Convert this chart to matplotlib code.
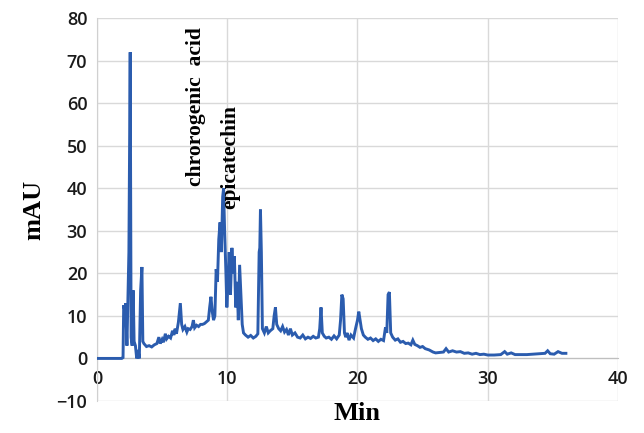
import matplotlib
matplotlib.use("Agg")
import matplotlib.pyplot as plt

time_min = [0, 1.9, 2.0, 2.05, 2.15, 2.2, 2.3, 2.35, 2.45, 2.55, 2.62, 2.7, 2.78, 2.85, 2.95,
            3.05, 3.15, 3.25, 3.35, 3.45, 3.52, 3.6, 3.8, 4.0, 4.2, 4.4, 4.6, 4.75, 4.85, 5.0,
            5.1, 5.25, 5.35, 5.5, 5.65, 5.8, 5.9, 6.0, 6.1, 6.25, 6.4, 6.5, 6.6, 6.75, 6.9,
            7.0, 7.15, 7.3, 7.4, 7.5, 7.65, 7.8, 7.95, 8.1, 8.25, 8.4, 8.55, 8.65, 8.75, 8.85,
            8.95, 9.05, 9.15, 9.25, 9.35, 9.45, 9.55, 9.65, 9.72, 9.8, 9.9, 9.97, 10.05, 10.15,
            10.25, 10.36, 10.45, 10.55, 10.65, 10.75, 10.85, 10.95, 11.05, 11.15, 11.25, 11.4,
            11.6, 11.8, 12.0, 12.2, 12.35, 12.45, 12.5, 12.55, 12.62, 12.7, 12.85, 13.0, 13.15,
            13.3, 13.5, 13.6, 13.7, 13.8, 13.95, 14.1, 14.25, 14.4, 14.55, 14.7, 14.85, 15.0,
            15.2, 15.4, 15.6, 15.8, 16.0, 16.2, 16.4, 16.6, 16.8, 17.0, 17.1, 17.2, 17.3, 17.45,
            17.6, 17.8, 18.0, 18.2, 18.4, 18.6, 18.7, 18.8, 18.9, 19.0, 19.1, 19.2, 19.35, 19.5,
            19.7, 19.85, 20.0, 20.1, 20.2, 20.3, 20.45, 20.6, 20.8, 21.0, 21.2, 21.4, 21.6, 21.8,
            22.0, 22.15, 22.25, 22.35, 22.45, 22.55, 22.7, 22.9, 23.1, 23.3, 23.5, 23.7, 23.9,
            24.1, 24.25, 24.4, 24.6, 24.8, 25.0, 25.2, 25.5, 25.8, 26.0, 26.3, 26.6, 26.8, 27.0,
            27.3, 27.6, 27.9, 28.2, 28.5, 28.8, 29.1, 29.4, 29.7, 30.0, 30.5, 31.0, 31.3, 31.5,
            31.8, 32.1, 32.5, 33.0, 33.5, 34.0, 34.4, 34.6, 34.8, 35.1, 35.4, 35.7, 36.0]
mau = [0, 0, 0.2, 12.5, 11, 13, 3, 10, 25, 72, 5, 3, 16, 4, 3,
       0, 2, 0, 16, 21.5, 4, 3.5, 2.8, 3, 2.7, 3.2, 3.5, 5, 3.5, 4.5,
       3.8, 5.8, 4.6, 5.2, 4.8, 6.5, 5.5, 7, 5.8, 8.5, 13, 8, 6.8, 7.5, 6.2,
       7, 6.8, 7.5, 9, 7.2, 7.8, 7.5, 8, 8, 8.2, 8.6, 9, 12, 14.5, 11,
       9, 10, 21, 18, 28, 32, 25, 38, 40, 30, 20, 12, 17, 25,
       15, 26, 20, 24, 12, 18, 9, 22, 15, 8, 6, 5.5,
       5, 5.4, 4.8, 5.2, 5.8, 25, 26, 35, 25, 7, 6, 7.5, 6,
       6.5, 7, 10, 12, 8, 7, 6.5, 7.5, 6.2, 6.8, 5.5, 7, 5.5,
       6, 5, 4.8, 5.5, 4.6, 5, 4.7, 5.2, 4.8, 5, 7, 12, 6, 5.2,
       4.8, 5, 4.5, 5.3, 4.6, 5.5, 9, 15, 14, 6, 5, 6, 4.3, 5.5,
       4.8, 7, 9, 11, 9, 7, 5.5, 5, 4.5, 4.8, 4.2, 4.6, 4, 4.5,
       4.2, 7.3, 6, 15, 15.6, 6, 5, 4.3, 4.6, 3.8, 4, 3.5, 3.6,
       3.2, 4.3, 3.3, 3, 2.6, 2.8, 2.3, 2, 1.5, 1.3, 1.4, 1.5, 2.3, 1.5,
       1.8, 1.5, 1.6, 1.2, 1.3, 1.0, 1.2, 0.9, 1.0, 0.8, 0.8, 0.9, 1.6, 1.0,
       1.3, 0.9, 0.9, 0.9, 1.0, 1.1, 1.2, 1.8, 1.1, 1.0, 1.6, 1.2, 1.2]

x_ticks = [0, 10, 20, 30, 40]
y_ticks = [-10, 0, 10, 20, 30, 40, 50, 60, 70, 80]
annotations = ["chrorogenic  acid", "epicatechin"]
annot_x = [7.6, 10.2]
annot_top = [78, 59.5]

fig = plt.figure(figsize=(6.44, 4.33), dpi=100)
ax = fig.add_axes([0.1506, 0.074, 0.809, 0.884])
ax.plot(time_min, mau, color="#2b5cae", linewidth=2.1, zorder=3, solid_joinstyle="miter")

ax.set_xlim(0, 40)
ax.set_ylim(-10, 80)
ax.set_xticks(x_ticks)
ax.set_yticks(y_ticks)
ax.grid(True, color="#d9d9d9", linewidth=1.0, zorder=0)
for s in ["top", "right"]:
    ax.spines[s].set_visible(False)
ax.spines["bottom"].set_position(("data", 0))
ax.spines["bottom"].set_color("#bfbfbf")
ax.spines["left"].set_color("#d0d0d0")
ax.tick_params(length=0, labelsize=13, colors="#1a1a1a")
ax.tick_params(axis="x", pad=8)
ax.tick_params(axis="y", pad=7)
for lab in ax.get_xticklabels() + ax.get_yticklabels():
    lab.set_family("Open Sans")
    lab.set_fontweight("semibold")

ax.set_ylabel("mAU", fontfamily="Liberation Serif", fontweight="bold", fontsize=19, labelpad=8)
fig.text(0.555, 0.046, "Min", fontfamily="Liberation Serif", fontweight="bold",
         fontsize=19, ha="center", va="center")

for txt, xx, yy in zip(annotations, annot_x, annot_top):
    ax.text(xx, yy, txt, rotation=90, ha="center", va="top",
            fontfamily="Liberation Serif", fontweight="bold", fontsize=15.5, zorder=4)

fig.savefig("out.png", dpi=100)
